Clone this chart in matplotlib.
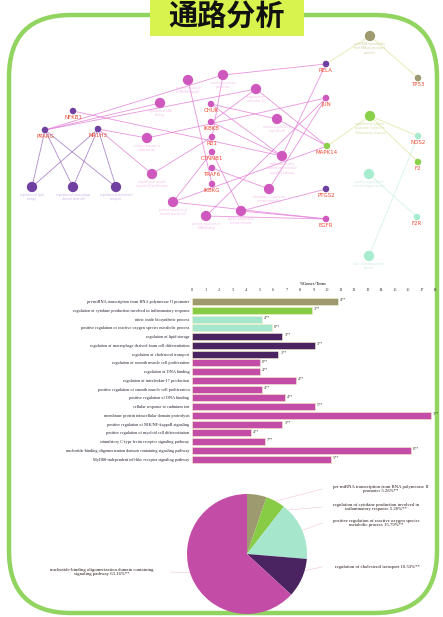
import matplotlib
matplotlib.use("Agg")
import matplotlib.pyplot as plt
from matplotlib.patches import FancyBboxPatch, Rectangle
import numpy as np

# ---- bar chart data ----
terms = [
    "pri-miRNA transcription from RNA polymerase II promoter",
    "regulation of cytokine production involved in inflammatory response",
    "nitric oxide biosynthetic process",
    "positive regulation of reactive oxygen species metabolic process",
    "regulation of lipid storage",
    "regulation of macrophage derived foam cell differentiation",
    "regulation of cholesterol transport",
    "regulation of smooth muscle cell proliferation",
    "regulation of DNA binding",
    "regulation of interleukin-17 production",
    "positive regulation of smooth muscle cell proliferation",
    "positive regulation of DNA binding",
    "cellular response to cadmium ion",
    "membrane protein intracellular domain proteolysis",
    "positive regulation of NIK/NF-kappaB signaling",
    "positive regulation of myeloid cell differentiation",
    "stimulatory C-type lectin receptor signaling pathway",
    "nucleotide-binding oligomerization domain containing signaling pathway",
    "MyD88-independent toll-like receptor signaling pathway",
]
pct_genes = [10.8, 8.9, 5.2, 5.9, 6.7, 9.1, 6.4, 5.0, 5.0, 7.7,
             5.2, 6.9, 9.1, 17.7, 6.7, 4.4, 5.4, 16.2, 10.3]
bar_labels = ["4**", "3**", "4**", "6**", "3**", "3**", "3**", "6**", "4**", "4**",
              "4**", "4**", "5**", "3**", "3**", "4**", "7**", "6**", "5**"]
groups = [0, 1, 2, 2, 3, 3, 3, 4, 4, 4, 4, 4, 4, 4, 4, 4, 4, 4, 4]

# ---- pie data ----
pie_labels = [
    "pri-miRNA transcription from RNA polymerase II\npromoter 5.26%**",
    "regulation of cytokine production involved in\ninflammatory response 5.26%**",
    "positive regulation of reactive oxygen species\nmetabolic process 15.79%**",
    "regulation of cholesterol transport 10.53%**",
    "nucleotide-binding oligomerization domain containing\nsignaling pathway 63.16%**",
]
pie_values = [5.26, 5.26, 15.79, 10.53, 63.16]

group_colors = ["#9c9a6e", "#88cc46", "#a6e6cc", "#4a2460", "#c24ca6"]
net_colors = ["#9c9a6e", "#8ad04a", "#a8ecd0", "#7040a0", "#cf58be"]

# ---- network data ----
gene_names = ["NFKB1", "PPARG", "NR1H3", "CHUK", "IKBKB", "RB1", "CTNNB1", "TRAF6",
              "IKBKG", "RELA", "JUN", "MAPK14", "PTGS2", "EGFR", "TP53", "NOS2", "F2", "F2R"]
gene_group = [3, 3, 3, 4, 4, 4, 4, 4, 4, 3, 4, 1, 3, 4, 0, 2, 1, 2]
term_names = [
    "pri-miRNA transcription\nfrom RNA polymerase II\npromoter",
    "regulation of cytokine\nproduction involved in\ninflammatory response",
    "nitric oxide biosynthetic\nprocess",
    "positive regulation of\nreactive oxygen species",
    "regulation of lipid\nstorage",
    "regulation of macrophage\nderived foam cell",
    "regulation of cholesterol\ntransport",
    "regulation of smooth\nmuscle cell proliferation",
    "regulation of DNA\nbinding",
    "regulation of\ninterleukin-17",
    "positive regulation of\nsmooth muscle cell",
    "positive regulation of\nDNA binding",
    "cellular response to\ncadmium ion",
    "membrane protein\nproteolysis",
    "positive regulation\nof NIK/NF-kappaB",
    "positive regulation of\nmyeloid cell",
    "stimulatory C-type lectin\nreceptor signaling",
    "nucleotide-binding\noligomerization domain\nsignaling pathway",
    "MyD88-independent\ntoll-like receptor",
]
edges = [
    (1, 5), (1, 4), (2, 4), (2, 6), (2, 5), (1, 6), (0, 17), (1, 9), (1, 8),
    (2, 12), (3, 17), (4, 17), (5, 13), (6, 10), (7, 16), (8, 14), (3, 15),
    (9, 17), (9, 13), (10, 11), (10, 12), (11, 9), (11, 10), (11, 1), (12, 18),
    (13, 10), (13, 11), (13, 18), (14, 0), (15, 1), (15, 2), (16, 1), (17, 3),
    (9, 0), (6, 18), (4, 9), (5, 7), (10, 16), (11, 15), (1, 13), (2, 7),
]

# layout (pixel coords of the 443x617 image)
gene_pos = [(73, 111), (45, 130), (98, 129), (211, 104), (211, 122), (212, 137),
            (212, 152), (212, 168), (212, 184), (326, 64), (326, 98), (327, 146),
            (326, 189), (326, 219), (418, 78), (418, 136), (418, 162), (417, 217)]
term_pos = [(370, 36), (370, 116), (369, 256), (369, 174), (32, 187), (73, 187),
            (116, 187), (152, 174), (160, 103), (256, 89), (173, 202), (206, 216),
            (147, 138), (223, 75), (188, 80), (277, 119), (269, 189), (282, 156),
            (241, 211)]
term_group = [0, 1, 2, 2, 3, 3, 3, 4, 4, 4, 4, 4, 4, 4, 4, 4, 4, 4, 4]
edge_colors = ["#e0e39a", "#e0e39a", "#cdf0e2", "#9a6cc0", "#e27ad6"]
text_colors = ["#c8c490", "#c8d890", "#c0e6d6", "#c0a0dc", "#eeb0e2"]

W, H = 443, 617
fig = plt.figure(figsize=(W / 100, H / 100), dpi=100)
bg = fig.add_axes([0, 0, 1, 1])
bg.set_xlim(0, W)
bg.set_ylim(H, 0)
bg.axis("off")

# frame and title
frame = FancyBboxPatch((9, 15), 428, 598, boxstyle="round,pad=0,rounding_size=62",
                       fill=False, ec="#92d460", lw=3.2)
bg.add_patch(frame)
bg.add_patch(Rectangle((150, 0), 154, 36, fc="#d8f24e", ec="none", zorder=3))
bg.text(227, 17, "通路分析", ha="center", va="center", fontsize=21, fontweight="bold",
        family=["Noto Sans CJK SC", "DejaVu Sans"], color="#111111", zorder=4)

# network edges
for g, t in edges:
    gx, gy = gene_pos[g]
    tx, ty = term_pos[t]
    bg.plot([gx, tx], [gy, ty], color=edge_colors[term_group[t]], lw=0.6,
            alpha=0.8, zorder=1)

# term nodes
for i, (tx, ty) in enumerate(term_pos):
    grp = term_group[i]
    bg.scatter(tx, ty, s=55, color=net_colors[grp], edgecolors="none", zorder=2)
    bg.text(tx, ty + 6, term_names[i], ha="center", va="top", fontsize=1.9,
            color=text_colors[grp], alpha=0.85, linespacing=1.1, zorder=2)

# gene nodes
for i, (gx, gy) in enumerate(gene_pos):
    bg.scatter(gx, gy, s=22, color=net_colors[gene_group[i]], edgecolors="none", zorder=3)
    bg.text(gx, gy + 4, gene_names[i], ha="center", va="top", fontsize=4.0,
            color="#f04a30", zorder=3)

# ---- bar chart ----
ax = fig.add_axes([192 / W, 1 - 463.6 / H, 243 / W, 166.3 / H])
y = np.arange(len(terms))
cols = [group_colors[g] for g in groups]
ax.barh(y, pct_genes, height=0.8, color=cols, edgecolor="#f4f0c8", linewidth=0.4)
for yi, v, lab in zip(y, pct_genes, bar_labels):
    ax.text(v + 0.15, yi - 0.15, lab, fontsize=3, va="center", ha="left",
            family="Liberation Serif", color="#333322")
ax.set_xlim(0, 18)
ax.set_ylim(len(terms) - 0.5, -0.5)
ax.set_yticks(y)
ax.set_yticklabels(terms, fontsize=3.1, family="Liberation Serif", color="#2a1e30")
ax.set_xticks(np.arange(0, 19))
ax.xaxis.tick_top()
ax.tick_params(axis="x", labelsize=3.2, length=0, pad=4, labelcolor="#333333")
ax.tick_params(axis="y", length=0, pad=2)
for lbl in ax.get_xticklabels():
    lbl.set_family("Liberation Serif")
ax.set_xlabel("%Genes/Term", fontsize=3.4, family="Liberation Serif", labelpad=2)
ax.xaxis.set_label_position("top")
for s in ax.spines.values():
    s.set_visible(False)
ax.axhline(len(terms) - 0.5, color="#eeeeee", lw=0.5)
ax.patch.set_alpha(0)

# ---- pie chart ----
pax = fig.add_axes([187 / W, 1 - 614 / H, 120 / W, 120 / H])
wedges, _ = pax.pie(pie_values, colors=group_colors, startangle=90,
                    counterclock=False, radius=1)
pax.set_xlim(-1, 1)
pax.set_ylim(-1, 1)
pax.set_aspect("equal")

label_pos = [(381, 489), (376, 507), (376, 523), (377, 567), (102, 572)]
cx, cy, r = 247, 554, 60
for w, lab, (lx, ly) in zip(wedges, pie_labels, label_pos):
    mid = np.deg2rad((w.theta1 + w.theta2) / 2)
    px = cx + 0.8 * r * np.cos(mid)
    py = cy - 0.8 * r * np.sin(mid)
    ex = 322 if lx > cx else 170
    bg.plot([px, ex], [py, ly], color="#f2c4dc", lw=0.4, zorder=5)
    bg.text(lx, ly, lab, ha="center", va="center", fontsize=3.4,
            family="Liberation Serif", color="#2a1a1a", linespacing=1.0, zorder=5)

fig.savefig("out.png", dpi=100, facecolor="white")
